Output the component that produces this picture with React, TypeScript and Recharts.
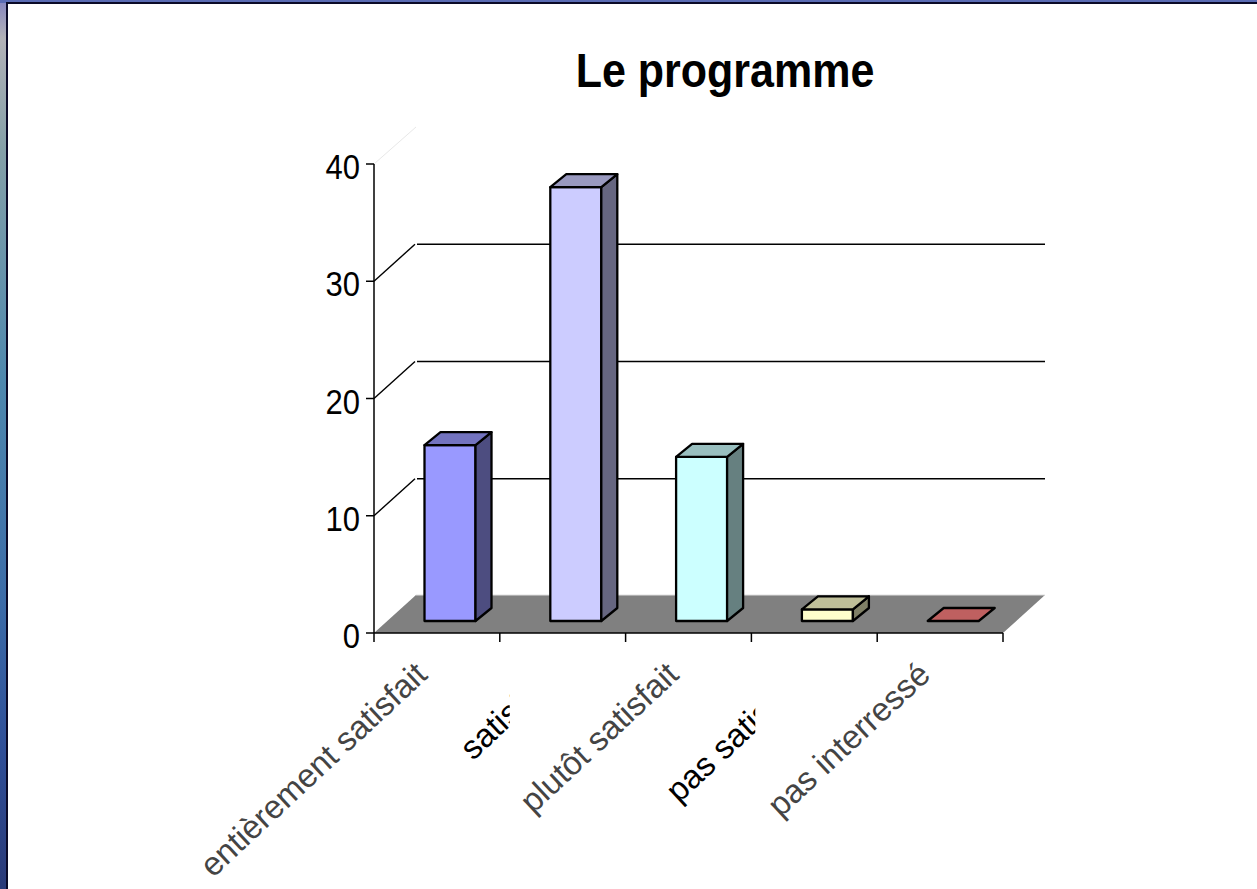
import { Bar, BarChart, CartesianGrid, XAxis, YAxis } from 'recharts';

const categories = ['entièrement satisfait', 'satisfait', 'plutôt satisfait', 'pas satisfait', 'pas interressé'];
const responses = [15, 37, 14, 1, 0];
const yTicks = [0, 10, 20, 30, 40];

const frontColors = ['#9999ff', '#ccccff', '#ccffff', '#ffffcc', '#ff8080'];
const topColors = ['#7373bf', '#9999bf', '#99bfbf', '#bfbf99', '#bf6060'];
const sideColors = ['#4d4d80', '#666680', '#668080', '#808066', '#804040'];
// the source picture cuts two of the rotated labels off
const labelClip: (number | null)[] = [null, -53, null, -59, null];

const data = categories.map((name, i) => ({ name, value: responses[i] }));

const FONT = '"Liberation Sans", Arial, sans-serif';
const FLOOR_DX = 42;
const FLOOR_DY = -37;
const BAR_DX = 13.5;
const BAR_DY = -12;
const DEPTH_X = 16;
const DEPTH_Y = -13;

function pts(list: number[][]) {
  return list.map((p) => p.join(',')).join(' ');
}

function Bar3D(props: any) {
  const { x, y, width, height, index } = props;
  const l = x + BAR_DX;
  const r = l + width;
  const t = y + BAR_DY;
  const b = t + height;
  const stroke = { stroke: '#000', strokeWidth: 2.3, strokeLinejoin: 'round' as const };
  return (
    <g>
      {height > 0 && <rect x={l} y={t} width={width} height={height} fill={frontColors[index]} {...stroke} />}
      {height > 0 && (
        <polygon
          points={pts([[r, t], [r + DEPTH_X, t + DEPTH_Y], [r + DEPTH_X, b + DEPTH_Y], [r, b]])}
          fill={sideColors[index]}
          {...stroke}
        />
      )}
      <polygon
        points={pts([[l, t], [l + DEPTH_X, t + DEPTH_Y], [r + DEPTH_X, t + DEPTH_Y], [r, t]])}
        fill={topColors[index]}
        {...stroke}
      />
    </g>
  );
}

function GridLine3D(props: any) {
  const { x1, x2, y1 } = props;
  const backY = y1 + FLOOR_DY;
  // y comes from the scale: the lowest line is the floor, the highest only a faint edge
  if (y1 > 600) {
    const floorY = backY - 1;
    return (
      <g>
        <polygon
          points={pts([[x1, y1], [x1 + FLOOR_DX, floorY], [x2 + FLOOR_DX, floorY], [x2, y1]])}
          fill="#808080"
        />
        <line x1={x1 + FLOOR_DX} x2={x2 + FLOOR_DX} y1={floorY} y2={floorY} stroke="#e0e0e0" strokeWidth={1} />
      </g>
    );
  }
  if (y1 < 200) {
    return <line x1={x1} y1={y1} x2={x1 + FLOOR_DX} y2={backY} stroke="#e8e8e8" strokeWidth={1} />;
  }
  return (
    <g>
      <line x1={x1} y1={y1} x2={x1 + 41} y2={backY} stroke="#000" strokeWidth={1.4} />
      <line x1={x1 + 43} x2={x2 + FLOOR_DX} y1={backY} y2={backY} stroke="#000" strokeWidth={1.4} />
    </g>
  );
}

function CategoryTick(props: any) {
  const { x, y, payload, index, width } = props;
  const clip = labelClip[index];
  const band = width / categories.length;
  const ax = x - 8;
  const ay = y + (clip === null ? 36 : 44);
  const axisY = y - 8;
  const text = (
    <text
      x={0}
      y={0}
      textAnchor="end"
      fontFamily={FONT}
      fontSize={30}
      fill={clip === null ? '#444' : '#000'}
      transform={`translate(${ax} ${ay}) rotate(-43) scale(1.1 1.1)`}
    >
      {payload.value}
    </text>
  );
  const marks = (
    <>
      <line x1={x - band / 2} x2={x - band / 2} y1={axisY} y2={axisY + 9} stroke="#000" strokeWidth={1.5} />
      {index === categories.length - 1 && (
        <line x1={x + band / 2} x2={x + band / 2} y1={axisY} y2={axisY + 9} stroke="#000" strokeWidth={1.5} />
      )}
    </>
  );
  if (clip === null) {
    return (
      <g>
        {marks}
        {text}
      </g>
    );
  }
  const id = `label-clip-${index}`;
  return (
    <g>
      {marks}
      <clipPath id={id}>
        <rect x={x - 400} y={y - 20} width={400 + clip} height={300} />
      </clipPath>
      <g clipPath={`url(#${id})`}>{text}</g>
    </g>
  );
}

function ValueTick(props: any) {
  const { x, y, payload } = props;
  return (
    <text
      x={0}
      y={0}
      textAnchor="end"
      fontFamily={FONT}
      fontSize={31}
      fill="#000"
      transform={`translate(${x} ${y + 15}) scale(1 1.12)`}
    >
      {payload.value}
    </text>
  );
}

export default function App() {
  return (
    <div
      style={{
        position: 'absolute',
        left: 0,
        top: 0,
        width: 1257,
        height: 889,
        overflow: 'hidden',
        background:
          'linear-gradient(180deg, #8585c0 0, #b2b2b8 38px, #84a0a8 150px, #4e88ae 380px, #3c6ca8 600px, #2f4f98 750px, #2a3a78 889px)',
      }}
    >
      <div style={{ position: 'absolute', left: 0, top: 0, width: 1257, height: 3, background: '#5a6cb4' }} />
      <div
        style={{
          position: 'absolute',
          left: 6,
          top: 2,
          width: 1251,
          height: 887,
          boxSizing: 'border-box',
          background: '#fff',
          borderLeft: '2px solid #0a0a28',
          borderTop: '2px solid #0a0a28',
        }}
      />
      <div style={{ position: 'absolute', left: 0, top: 0 }}>
        <BarChart
          width={1257}
          height={889}
          data={data}
          barSize={51}
          margin={{ top: 164, right: 254, bottom: 0, left: 0 }}
        >
          <text
            x={0}
            y={0}
            textAnchor="middle"
            fontFamily={FONT}
            fontSize={43}
            fontWeight={700}
            fill="#000"
            transform="translate(725 87) scale(1 1.1)"
          >
            Le programme
          </text>
          <CartesianGrid vertical={false} horizontal={(p: any) => <GridLine3D key={p.index} {...p} />} />
          <XAxis
            dataKey="name"
            interval={0}
            axisLine={{ stroke: '#000', strokeWidth: 1.5 }}
            tickLine={false}
            height={256}
            tick={(p: any) => <CategoryTick {...p} />}
          />
          <YAxis
            width={374}
            domain={[0, 40]}
            ticks={yTicks}
            axisLine={{ stroke: '#000', strokeWidth: 1.5 }}
            tickLine={{ stroke: '#000', strokeWidth: 1.5 }}
            tickSize={8}
            tickMargin={6}
            tick={(p: any) => <ValueTick {...p} />}
          />
          <Bar dataKey="value" isAnimationActive={false} shape={<Bar3D />} />
        </BarChart>
      </div>
    </div>
  );
}
